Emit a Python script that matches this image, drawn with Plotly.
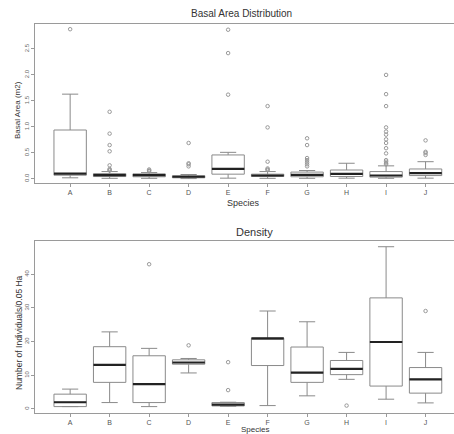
import plotly.graph_objects as go

species = ["A", "B", "C", "D", "E", "F", "G", "H", "I", "J"]

# Basal area (m2) box statistics
ba_low = [0.02, 0.01, 0.01, 0.005, 0.013, 0.01, 0.01, 0.013, 0.01, 0.013]
ba_q1 = [0.07, 0.044, 0.04, 0.02, 0.09, 0.045, 0.04, 0.045, 0.033, 0.063]
ba_med = [0.10, 0.071, 0.071, 0.04, 0.19, 0.064, 0.077, 0.096, 0.064, 0.11]
ba_q3 = [0.94, 0.10, 0.096, 0.06, 0.46, 0.09, 0.13, 0.17, 0.14, 0.19]
ba_high = [1.63, 0.14, 0.12, 0.083, 0.51, 0.14, 0.16, 0.30, 0.25, 0.33]
# Basal area outliers (species, value)
ba_out_species = (["A"]
                  + ["B"] * 8
                  + ["C"] * 3
                  + ["D"] * 4
                  + ["E"] * 3
                  + ["F"] * 6
                  + ["G"] * 7
                  + ["I"] * 14
                  + ["J"] * 4)
ba_out_values = ([2.88]
                 + [0.16, 0.17, 0.19, 0.26, 0.53, 0.65, 0.87, 1.29]
                 + [0.15, 0.16, 0.18]
                 + [0.24, 0.28, 0.30, 0.69]
                 + [1.62, 2.42, 2.87]
                 + [0.17, 0.18, 0.20, 0.33, 0.99, 1.40]
                 + [0.24, 0.28, 0.32, 0.36, 0.40, 0.65, 0.78]
                 + [0.28, 0.30, 0.33, 0.36, 0.49, 0.59, 0.69, 0.76, 0.85, 0.91, 0.99, 1.40, 1.63, 2.00]
                 + [0.46, 0.50, 0.52, 0.74])

# Density (individuals / 0.05 ha) box statistics
de_low = [0.7, 1.9, 0.7, 10.7, 0.8, 1.0, 3.9, 8.8, 2.9, 1.8]
de_q1 = [0.7, 7.9, 1.9, 13.3, 0.9, 12.9, 7.9, 10.2, 6.8, 4.7]
de_med = [2.0, 13.1, 7.4, 13.8, 1.3, 21.0, 10.8, 11.9, 19.9, 8.8]
de_q3 = [4.4, 18.5, 15.8, 14.6, 1.9, 21.0, 18.4, 14.4, 33.0, 12.3]
de_high = [5.9, 22.9, 18.0, 15.0, 2.0, 29.1, 25.9, 16.8, 48.2, 16.8]
de_out_species = ["C", "D", "E", "E", "H", "J"]
de_out_values = [43.0, 18.9, 5.6, 13.9, 1.0, 29.1]

ba_ticks = [0.0, 0.5, 1.0, 1.5, 2.0, 2.5]
ba_ticklabels = ["0.0", "0.5", "1.0", "1.5", "2.0", "2.5"]
de_ticks = [0, 10, 20, 30, 40]
de_ticklabels = ["0", "10", "20", "30", "40"]

pos = {s: i + 1 for i, s in enumerate(species)}
xs = [pos[s] for s in species]
BOXW = 0.82

BOX_LINE = "#8a8a8a"
AX_LINE = "#9a9a9a"
TXT = "#333333"
FONT = "Liberation Sans, Arial, sans-serif"

fig = go.Figure()


def add_panel(low, q1, med, q3, high, out_sp, out_val, xa, ya):
    fig.add_trace(go.Box(
        x=xs, lowerfence=low, q1=q1, median=med, q3=q3, upperfence=high,
        width=BOXW, whiskerwidth=0.5, boxpoints=False,
        fillcolor="white", line=dict(color=BOX_LINE, width=1),
        xaxis=xa, yaxis=ya, showlegend=False, hoverinfo="skip"))
    mx, my = [], []
    for x, m in zip(xs, med):
        mx += [x - BOXW / 2, x + BOXW / 2, None]
        my += [m, m, None]
    fig.add_trace(go.Scatter(
        x=mx, y=my, mode="lines", line=dict(color="#222222", width=2.2),
        xaxis=xa, yaxis=ya, showlegend=False, hoverinfo="skip"))
    fig.add_trace(go.Scatter(
        x=[pos[s] for s in out_sp], y=out_val, mode="markers",
        marker=dict(symbol="circle-open", size=3.5, color="#999999", line=dict(width=1)),
        xaxis=xa, yaxis=ya, showlegend=False, hoverinfo="skip"))


add_panel(ba_low, ba_q1, ba_med, ba_q3, ba_high, ba_out_species, ba_out_values, "x", "y")
add_panel(de_low, de_q1, de_med, de_q3, de_high, de_out_species, de_out_values, "x2", "y2")

W, H = 454, 434
xdom = [35 / W, 1.0]

common_x = dict(
    range=[0.11, 10.72], tickmode="array", tickvals=xs, ticktext=species,
    showgrid=False, zeroline=False, showline=True, linecolor=AX_LINE, linewidth=1,
    mirror=True, ticks="outside", ticklen=3, tickcolor=AX_LINE, automargin=False,
    tickfont=dict(size=7, color="#555555", family=FONT), domain=xdom)
common_y = dict(
    showgrid=False, zeroline=False, showline=True, linecolor=AX_LINE, linewidth=1,
    ticks="outside", ticklen=3, tickcolor=AX_LINE, tickangle=-90, automargin=False,
    tickfont=dict(size=6, color="#666666", family=FONT))


def ann(text, x, y, size, angle=0):
    return dict(text=text, x=x / W, y=(H - y) / H, xref="paper", yref="paper",
                xanchor="center", yanchor="middle", textangle=angle, showarrow=False,
                font=dict(size=size, color=TXT, family=FONT))


fig.update_layout(
    width=W, height=H,
    margin=dict(l=0, r=0, t=0, b=0),
    paper_bgcolor="white", plot_bgcolor="white",
    xaxis=dict(common_x, anchor="y"),
    yaxis=dict(common_y, range=[-0.08, 2.98], tickvals=ba_ticks, ticktext=ba_ticklabels,
               domain=[(H - 183) / H, (H - 24) / H], anchor="x"),
    xaxis2=dict(common_x, anchor="y2"),
    yaxis2=dict(common_y, range=[-1.2, 49.9], tickvals=de_ticks, ticktext=de_ticklabels,
                domain=[(H - 413) / H, (H - 241) / H], anchor="x2"),
    annotations=[
        ann("Basal Area Distribution", 241, 13, 10),
        ann("Species", 244, 203, 9),
        ann("Basal Area (m2)", 17, 110, 8, -90),
        ann("Density", 254, 232, 11),
        ann("Species", 255, 429, 8),
        ann("Number of Individuals/0.05 Ha", 19, 333, 8.5, -90),
    ],
)

fig.write_html("out.html", config={"displayModeBar": False, "staticPlot": True},
               post_script="document.body.style.margin='0';document.body.style.overflow='hidden';")
